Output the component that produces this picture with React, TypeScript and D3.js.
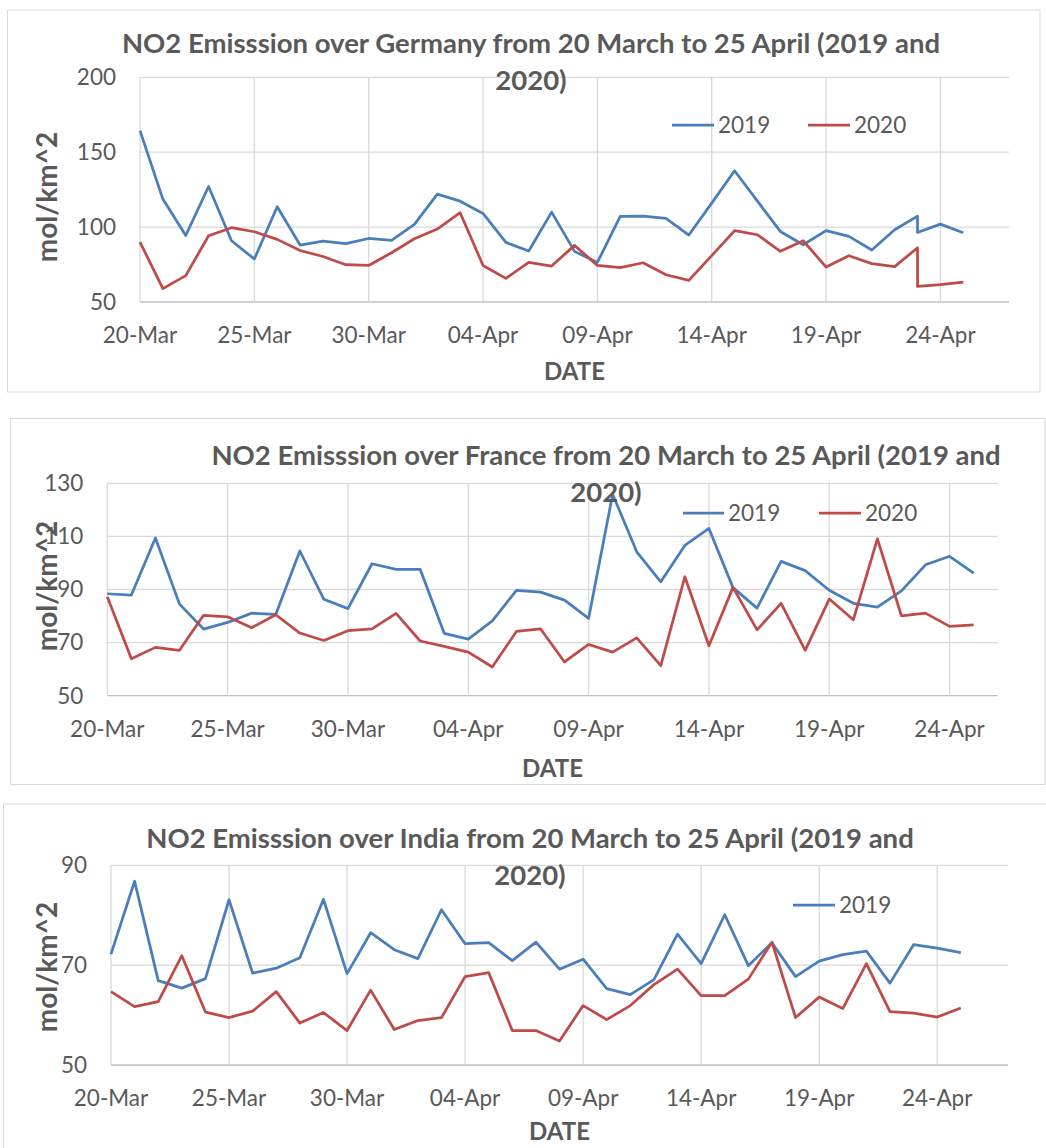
import React from "react";
import * as d3 from "d3";

// dates shared by France and India (20 Mar - 25 Apr)
const days = [
  "20-Mar", "21-Mar", "22-Mar", "23-Mar", "24-Mar", "25-Mar", "26-Mar", "27-Mar", "28-Mar", "29-Mar",
  "30-Mar", "31-Mar", "01-Apr", "02-Apr", "03-Apr", "04-Apr", "05-Apr", "06-Apr", "07-Apr", "08-Apr",
  "09-Apr", "10-Apr", "11-Apr", "12-Apr", "13-Apr", "14-Apr", "15-Apr", "16-Apr", "17-Apr", "18-Apr",
  "19-Apr", "20-Apr", "21-Apr", "22-Apr", "23-Apr", "24-Apr", "25-Apr",
];

// Germany sheet has 23-Apr twice
const germanyDays = [
  "20-Mar", "21-Mar", "22-Mar", "23-Mar", "24-Mar", "25-Mar", "26-Mar", "27-Mar", "28-Mar", "29-Mar",
  "30-Mar", "31-Mar", "01-Apr", "02-Apr", "03-Apr", "04-Apr", "05-Apr", "06-Apr", "07-Apr", "08-Apr",
  "09-Apr", "10-Apr", "11-Apr", "12-Apr", "13-Apr", "14-Apr", "15-Apr", "16-Apr", "17-Apr", "18-Apr",
  "19-Apr", "20-Apr", "21-Apr", "22-Apr", "23-Apr", "23-Apr", "24-Apr", "25-Apr",
];

const tickLabels = ["20-Mar", "25-Mar", "30-Mar", "04-Apr", "09-Apr", "14-Apr", "19-Apr", "24-Apr"];

const germany2019 = [
  164.4, 118.7, 94.4, 127.1, 90.9, 78.7, 113.6, 88, 90.7, 89,
  92.4, 91.1, 101.8, 122, 117.3, 109.1, 89.8, 84, 110, 83.8,
  76.4, 107.1, 107.3, 105.8, 94.7, 116, 137.6, 117.3, 97.1, 88.2,
  97.6, 93.8, 84.7, 98.2, 107.3, 96.4, 102, 96.2,
];
const germany2020 = [
  90, 58.9, 67.6, 94.2, 99.6, 96.9, 91.8, 84.4, 80.4, 74.9,
  74.4, 82.9, 92.2, 98.7, 109.6, 74.4, 65.8, 76.4, 74, 87.8,
  74.4, 72.9, 76.2, 68.2, 64.4, 81, 97.6, 94.9, 83.8, 90.9,
  73.3, 80.9, 75.6, 73.6, 86.2, 60.4, 61.6, 63.3,
];

const france2019 = [
  88.4, 87.9, 109.4, 84.5, 75.1, 77.6, 81.1, 80.6, 104.5, 86.3,
  82.8, 99.7, 97.6, 97.6, 73.5, 71.3, 78.2, 89.7, 89, 86,
  79.1, 125.9, 104.2, 92.9, 106.6, 113, 90.7, 83, 100.6, 97.1,
  89.7, 84.8, 83.4, 89.5, 99.3, 102.5, 96.2,
];
const france2020 = [
  87.3, 63.9, 68.2, 67.1, 80.3, 79.7, 75.6, 80.5, 73.6, 70.8,
  74.5, 75.2, 81, 70.6, 68.6, 66.4, 60.8, 74.2, 75.2, 62.7,
  69.3, 66.4, 71.8, 61.3, 94.8, 68.8, 90.8, 74.8, 84.8, 67.1,
  86.4, 78.6, 109.1, 80.1, 81.1, 76.1, 76.7,
];

const india2019 = [
  72.2, 86.8, 66.9, 65.4, 67.3, 83.1, 68.4, 69.4, 71.5, 83.2,
  68.3, 76.5, 73.1, 71.3, 81.1, 74.3, 74.5, 70.9, 74.6, 69.2,
  71.2, 65.3, 64.1, 67.1, 76.2, 70.3, 80.1, 69.9, 74.5, 67.7,
  70.8, 72.1, 72.8, 66.4, 74.1, 73.4, 72.5,
];
const india2020 = [
  64.7, 61.7, 62.7, 71.9, 60.6, 59.5, 60.8, 64.7, 58.4, 60.5,
  56.9, 65, 57.1, 58.9, 59.5, 67.7, 68.5, 56.9, 56.9, 54.8,
  61.9, 59.1, 61.9, 66.1, 69.2, 63.9, 63.9, 67.2, 74.6, 59.5,
  63.6, 61.3, 70.3, 60.7, 60.4, 59.6, 61.4,
];

const BLUE = "#4A7EBB";
const RED = "#BE4B48";
const TEXT = "#595959";
const GRID = "#D9D9D9";
const FONT = "Lato, 'Open Sans', sans-serif";

const parse = (s: string) => d3.utcParse("%d-%b-%Y")(`${s}-2020`) as Date;

const charts = [
  {
    country: "Germany",
    dates: germanyDays, s2019: germany2019, s2020: germany2020,
    yDomain: [50, 200], yTicks: [50, 100, 150, 200], end: "27-Apr",
    frame: { x: 7.5, y: 10, w: 1032.5, h: 382 },
    plot: { left: 140, right: 1009, top: 77.3, bottom: 302 },
    titleX: 531, titleY: 53, labelY: 197,
    legend: [
      { name: "2019", color: BLUE, x1: 672, x2: 714, y: 125, tx: 718, ty: 133 },
      { name: "2020", color: RED, x1: 808, x2: 850, y: 125, tx: 854, ty: 133 },
    ],
    dateY: 380,
  },
  {
    country: "France",
    dates: days, s2019: france2019, s2020: france2020,
    yDomain: [50, 130], yTicks: [50, 70, 90, 110, 130], end: "26-Apr",
    frame: { x: 10.5, y: 418.5, w: 1034.5, h: 366 },
    plot: { left: 107.3, right: 997.7, top: 483.3, bottom: 695.7 },
    titleX: 606, titleY: 465, labelY: 586,
    legend: [
      { name: "2019", color: BLUE, x1: 683, x2: 724, y: 513, tx: 728, ty: 521 },
      { name: "2020", color: RED, x1: 819, x2: 861, y: 513, tx: 865, ty: 521 },
    ],
    dateY: 777,
  },
  {
    country: "India",
    dates: days, s2019: india2019, s2020: india2020,
    yDomain: [50, 90], yTicks: [50, 70, 90], end: "27-Apr",
    frame: { x: 3.5, y: 804, w: 1060, h: 360 },
    plot: { left: 111, right: 1008, top: 865.3, bottom: 1065 },
    titleX: 530, titleY: 848, labelY: 967,
    legend: [
      { name: "2019", color: BLUE, x1: 793, x2: 835, y: 905, tx: 839, ty: 913 },
    ],
    dateY: 1140,
  },
];

function Chart({ c }: { c: (typeof charts)[number] }) {
  const x = d3.scaleUtc().domain([parse("20-Mar"), parse(c.end)]).range([c.plot.left, c.plot.right]);
  const y = d3.scaleLinear().domain(c.yDomain).range([c.plot.bottom, c.plot.top]);
  const dates = c.dates.map(parse);
  const line = d3.line<number>().x((_, i) => x(dates[i])).y((d) => y(d));
  const midX = (c.plot.left + c.plot.right) / 2;

  return (
    <g>
      <rect x={c.frame.x} y={c.frame.y} width={c.frame.w} height={c.frame.h} fill="#fff" stroke={GRID} strokeWidth={1} />
      {/* grid */}
      {c.yTicks.map((t) => (
        <line key={"h" + t} x1={c.plot.left} x2={c.plot.right} y1={y(t)} y2={y(t)} stroke={t === c.yDomain[0] ? "#BFBFBF" : GRID} strokeWidth={1.3} />
      ))}
      {tickLabels.map((t) => (
        <line key={"v" + t} x1={x(parse(t))} x2={x(parse(t))} y1={c.plot.top} y2={c.plot.bottom} stroke={GRID} strokeWidth={1.3} />
      ))}
      {/* ticks */}
      {c.yTicks.map((t) => (
        <text key={"yt" + t} x={c.plot.left - 24} y={y(t)} dy="0.35em" textAnchor="end" fontSize={22.5} fill={TEXT}>{t}</text>
      ))}
      {tickLabels.map((t) => (
        <text key={"xt" + t} x={x(parse(t))} y={c.plot.bottom + 41} textAnchor="middle" fontSize={22.5} fill={TEXT}>{t}</text>
      ))}
      {/* series */}
      <path d={line(c.s2019) ?? ""} fill="none" stroke={BLUE} strokeWidth={2.75} strokeLinejoin="round" />
      <path d={line(c.s2020) ?? ""} fill="none" stroke={RED} strokeWidth={2.75} strokeLinejoin="round" />
      {/* titles */}
      <text x={c.titleX} y={c.titleY} textAnchor="middle" fontSize={27.5} fontWeight="bold" fill={TEXT}>
        {`NO2 Emisssion over ${c.country} from 20 March to 25 April (2019 and`}
      </text>
      <text x={c.titleX} y={c.titleY + 37} textAnchor="middle" fontSize={27.5} fontWeight="bold" fill={TEXT}>2020)</text>
      <text x={midX} y={c.dateY} textAnchor="middle" fontSize={24} fontWeight="bold" fill={TEXT}>DATE</text>
      <text transform={`translate(57,${c.labelY}) rotate(-90)`} textAnchor="middle" fontSize={28} fontWeight="bold" fill={TEXT}>mol/km^2</text>
      {/* legend */}
      {c.legend.map((l) => (
        <g key={l.name}>
          <line x1={l.x1} x2={l.x2} y1={l.y} y2={l.y} stroke={l.color} strokeWidth={2.75} />
          <text x={l.tx} y={l.ty} fontSize={22.5} fill={TEXT}>{l.name}</text>
        </g>
      ))}
    </g>
  );
}

export default function App() {
  return (
    <svg width={1046} height={1148} style={{ position: "absolute", left: 0, top: 0, fontFamily: FONT, background: "#fff" }}>
      <rect width={1046} height={1148} fill="#fff" />
      {charts.map((c) => (
        <Chart key={c.country} c={c} />
      ))}
    </svg>
  );
}
